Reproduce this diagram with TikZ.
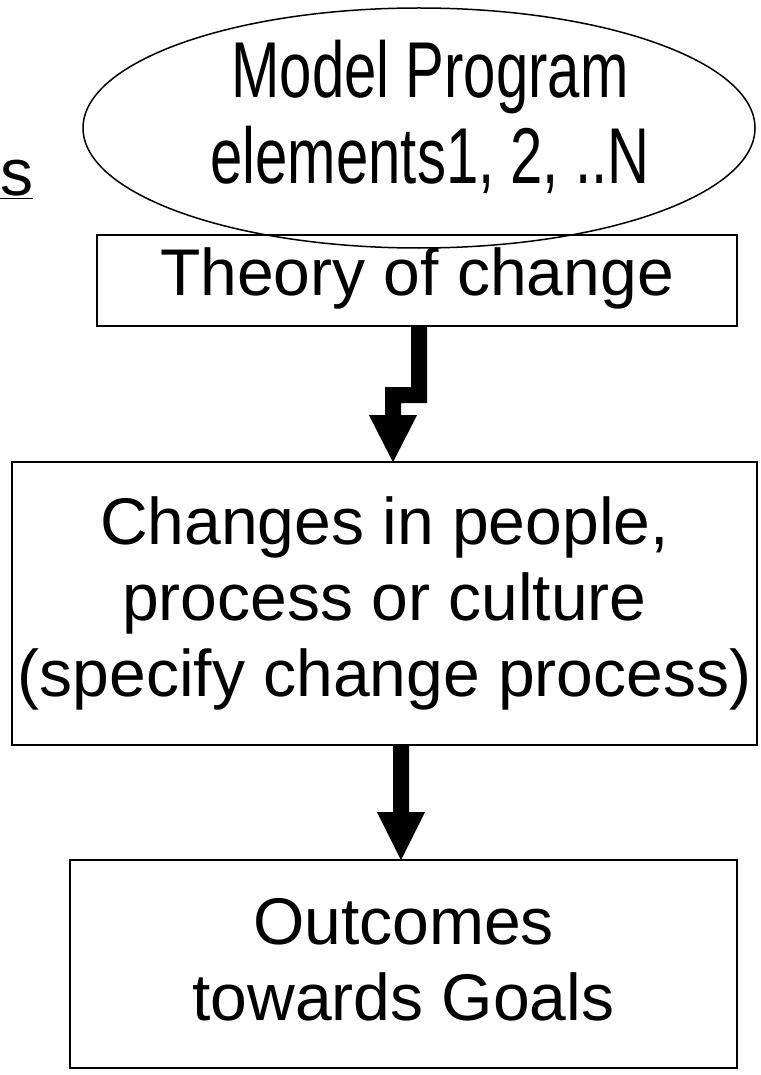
\documentclass[tikz,border=0pt]{standalone}
\usepackage{fontspec}
\setmainfont{Liberation Sans}
\usetikzlibrary{shapes.geometric,calc}
\begin{document}
\begin{tikzpicture}[x=1pt,y=-1pt,
  lbl/.style={font=\fontsize{66}{76}\selectfont, align=center, inner sep=0pt},
  boxed/.style={draw, line width=2pt},
  arrowfill/.style={fill=black}]
\useasboundingbox (0,0) rectangle (760,1075);
\node[draw, line width=1.5pt, ellipse, minimum width=672pt, minimum height=240pt, inner sep=0pt] (ell) at (419,128) {};
\node[lbl] (elltext) at (430,122) {\scalebox{0.88}[1.2]{\begin{tabular}{@{}c@{}}Model Program\\[-4pt]elements1, 2, ..N\end{tabular}}};
\node[lbl, anchor=base west] (s) at (0,196) {\underline{s}};
\draw[boxed] (97,235) rectangle (737,326);
\node[inner sep=0pt, minimum width=640pt, minimum height=91pt] (toc) at (417,280.5) {};
\node[lbl] (toctext) at (417,278) {Theory of change};
\draw[boxed] (12,462) rectangle (757,745);
\node[inner sep=0pt, minimum width=745pt, minimum height=283pt] (chg) at (384.5,603.5) {};
\node[lbl] (chgtext) at (384.5,603) {Changes in people,\\process or culture\\(specify change process)};
\draw[boxed] (70,860) rectangle (737,1068);
\node[inner sep=0pt, minimum width=667pt, minimum height=208pt] (out) at (403.5,964) {};
\node[lbl] (outtext) at (403.5,960) {Outcomes\\towards Goals};
% zigzag arrow from toc to chg
\fill[arrowfill] ([xshift=-6pt]toc.south) -- ++(16,0) -- ++(0,77) -- ++(-26,0) -- ++(0,12) -- ++(16,0) -- ++(-24,47) -- ++(-24,-47) -- ++(16,0) -- ++(0,-28) -- ++(26,0) -- cycle;
% straight arrow from chg to out
\fill[arrowfill] ([xshift=8.5pt]chg.south) -- ++(16,0) -- ++(0,67) -- ++(16,0) -- ++(-24,48) -- ++(-24,-48) -- ++(16,0) -- cycle;
\end{tikzpicture}
\end{document}
